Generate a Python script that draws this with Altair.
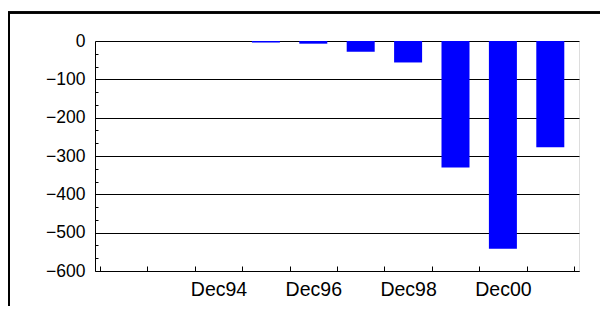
import altair as alt
import pandas as pd

FONT = "Liberation Sans"

periods = ["Dec92", "Dec93", "Dec94", "Dec95", "Dec96", "Dec97", "Dec98", "Dec99", "Dec00", "Dec01"]
values = [None, None, None, -4, -7, -28, -56, -330, -542, -277]
y_major = [0, -100, -200, -300, -400, -500, -600]
y_minor = [-33.3, -66.7, -133.3, -166.7, -233.3, -266.7, -333.3, -366.7,
           -433.3, -466.7, -533.3, -566.7]
labelled_periods = ["Dec94", "Dec96", "Dec98", "Dec00"]

df = pd.DataFrame({
    "period": periods,
    "value": values,
    "pos": [i + 0.5 for i in range(len(periods))],
})

label_pos = [periods.index(p) + 0.5 for p in labelled_periods]
boundaries = list(range(len(periods) + 1))
label_expr = "[" + ",".join("'" + p + "'" for p in periods) + "][floor(datum.value)]"

xscale = alt.Scale(domain=[0, len(periods)], nice=False, zero=False)
yscale = alt.Scale(domain=[-600, 0], nice=False)

bars = alt.Chart(df).mark_bar(color="#0000FF", size=28).encode(
    x=alt.X("pos:Q", scale=xscale, axis=alt.Axis(
        orient="bottom", values=label_pos, labelExpr=label_expr, ticks=False,
        grid=False, domainColor="black", domainWidth=1, labelFontSize=19.5,
        labelColor="black", labelFont=FONT, labelPadding=9, title=None,
        labelFlush=False, labelOverlap=False)),
    y=alt.Y("value:Q", scale=yscale, axis=alt.Axis(
        orient="left", values=y_major, grid=True, gridColor="black",
        gridOpacity=1, gridWidth=1, ticks=False, domainColor="black",
        domainWidth=1, labelFontSize=17.5, labelColor="black", labelFont=FONT,
        labelPadding=10, title=None, labelFlush=False, labelOverlap=False)),
)

inner_ticks = alt.Chart(df).mark_point(opacity=0).encode(
    x=alt.X("pos:Q", scale=xscale, axis=alt.Axis(
        orient="top", offset=-230, values=boundaries, labels=False,
        domain=False, grid=False, ticks=True, tickSize=5, tickColor="black",
        tickWidth=1, title=None)),
    y=alt.Y("value:Q", scale=yscale, axis=alt.Axis(
        orient="right", offset=-484, values=y_minor, labels=False,
        domain=False, grid=False, ticks=True, tickSize=3, tickColor="black",
        tickWidth=1, title=None)),
)

frame = alt.Chart(df).mark_rect(
    fillOpacity=0, stroke="black", strokeWidth=1.5, clip=False
).encode(
    x=alt.value(-86.25), x2=alt.value(900),
    y=alt.value(-28.5), y2=alt.value(900),
)

chart = alt.layer(frame, bars, inner_ticks).resolve_axis(
    x="independent", y="independent"
).properties(
    width=484,
    height=230,
    title=alt.Title(
        "Operating Income Before Depreciation", fontSize=25, font=FONT,
        fontWeight="bold", color="black", anchor="middle", frame="group",
        offset=33.5, baseline="alphabetic", dx=-82.5),
    autosize=alt.AutoSizeParams(type="none"),
    padding={"left": 87, "top": 33, "right": 21, "bottom": 35},
).configure_view(stroke=None).configure(background="white")

chart.save("out.html", embed_options={"renderer": "svg", "actions": False})
